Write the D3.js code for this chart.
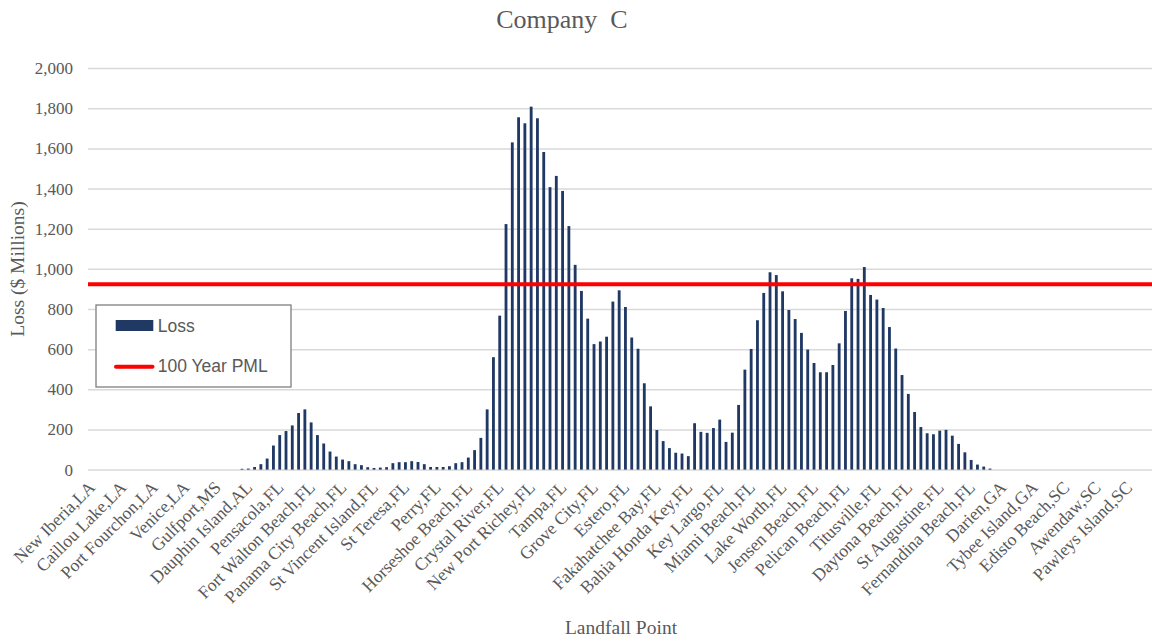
<!DOCTYPE html>
<html>
<head>
<meta charset="utf-8">
<script src="https://cdn.jsdelivr.net/npm/d3@7"></script>
<style>
  html, body { margin: 0; padding: 0; background: #ffffff; overflow: hidden; }
  svg { display: block; }
</style>
</head>
<body>
<svg id="chart" width="1152" height="641"></svg>
<script>
// ---------- data ----------
const chartTitle = "Company  C";
const yAxisTitle = "Loss ($ Millions)";
const xAxisTitle = "Landfall Point";
const seriesNames = ["Loss", "100 Year PML"];

// labels shown on the x axis (every 5th landfall point)
const tickLabels = [
  "New Iberia,LA", "Caillou Lake,LA", "Port Fourchon,LA", "Venice,LA", "Gulfport,MS",
  "Dauphin Island,AL", "Pensacola,FL", "Fort Walton Beach,FL", "Panama City Beach,FL",
  "St Vincent Island,FL", "St Teresa,FL", "Perry,FL", "Horseshoe Beach,FL", "Crystal River,FL",
  "New Port Richey,FL", "Tampa,FL", "Grove City,FL", "Estero,FL", "Fakahatchee Bay,FL",
  "Bahia Honda Key,FL", "Key Largo,FL", "Miami Beach,FL", "Lake Worth,FL", "Jensen Beach,FL",
  "Pelican Beach,FL", "Titusville,FL", "Daytona Beach,FL", "St Augustine,FL",
  "Fernandina Beach,FL", "Darien,GA", "Tybee Island,GA", "Edisto Beach,SC", "Awendaw,SC",
  "Pawleys Island,SC"
];
const labelEvery = 5;

// loss per landfall point ($ millions), 170 points
const lossValues = [
  0, 0, 0, 0, 0, 0, 0, 0, 0, 0,
  0, 0, 0, 0, 0, 0, 0, 0, 0, 0,
  0, 0, 0, 0, 4, 5, 13, 27, 55, 120,
  172, 192, 220, 282, 300, 235, 172, 130, 90, 65,
  50, 42, 27, 22, 12, 8, 10, 12, 32, 37,
  37, 42, 38, 27, 13, 13, 13, 17, 32, 37,
  60, 97, 158, 300, 560, 767, 1223, 1630, 1755, 1725,
  1808, 1750, 1582, 1407, 1463, 1388, 1213, 1020, 890, 752,
  625, 638, 662, 837, 893, 810, 658, 602, 430, 315,
  197, 142, 107, 84, 80, 67, 231, 188, 183, 207,
  249, 138, 184, 322, 498, 601, 744, 880, 983, 969,
  888, 795, 750, 681, 598, 531, 485, 485, 521, 629,
  790, 953, 950, 1009, 870, 847, 805, 710, 603, 471,
  377, 287, 212, 181, 176, 194, 198, 169, 128, 86,
  48, 25, 15, 5, 0, 0, 0, 0, 0, 0,
  0, 0, 0, 0, 0, 0, 0, 0, 0, 0,
  0, 0, 0, 0, 0, 0, 0, 0, 0, 0
];
const pmlValue = 923;
const yTicks = [0, 200, 400, 600, 800, 1000, 1200, 1400, 1600, 1800, 2000];

// ---------- layout ----------
const W = 1152, H = 641;
const plotLeft = 88, plotRight = 1156.6, plotTop = 68.1, plotBottom = 469.6;
const serif = "'Liberation Serif', 'Times New Roman', serif";
const sans = "'Liberation Sans', Arial, sans-serif";
const textGray = "#595959";
const barColor = "#1F3864";

const svg = d3.select("#chart");
svg.append("rect").attr("width", W).attr("height", H).attr("fill", "#fff");

const idx = d3.range(lossValues.length);
const x = d3.scaleBand().domain(idx).range([plotLeft, plotRight])
  .paddingInner(0.55).paddingOuter(0.275);
const y = d3.scaleLinear().domain([0, 2000]).range([plotBottom, plotTop]);

// gridlines + y labels
const yAxis = d3.axisLeft(y).tickValues(yTicks).tickFormat(d3.format(","))
  .tickSize(-(plotRight - plotLeft)).tickPadding(15);
const gy = svg.append("g").attr("transform", `translate(${plotLeft},0)`).call(yAxis);
gy.select(".domain").remove();
gy.selectAll(".tick line").attr("stroke", "#d9d9d9").attr("stroke-width", 1.5);
gy.selectAll(".tick text").attr("fill", textGray).attr("font-family", serif).attr("font-size", 17);

// bars
svg.append("g").selectAll("rect").data(idx).join("rect")
  .attr("x", i => x(i))
  .attr("width", x.bandwidth())
  .attr("y", i => y(lossValues[i]))
  .attr("height", i => y(0) - y(lossValues[i]))
  .attr("fill", barColor);

// x axis labels
const xAxis = d3.axisBottom(x)
  .tickValues(idx.filter(i => i % labelEvery === 0))
  .tickFormat(i => tickLabels[i / labelEvery])
  .tickSize(0);
const gx = svg.append("g").attr("transform", `translate(0,${plotBottom})`).call(xAxis);
gx.select(".domain").remove();
gx.selectAll(".tick text")
  .attr("fill", textGray).attr("font-family", serif).attr("font-size", 17.6)
  .attr("text-anchor", "end")
  .attr("x", 0).attr("y", 0).attr("dy", 0)
  .attr("transform", "translate(5,19) rotate(-45)");

// 100 Year PML line
svg.append("line")
  .attr("x1", plotLeft).attr("x2", plotRight)
  .attr("y1", y(pmlValue)).attr("y2", y(pmlValue))
  .attr("stroke", "#FF0000").attr("stroke-width", 4);

// titles
svg.append("text").attr("x", 562).attr("y", 28)
  .attr("text-anchor", "middle").attr("font-family", serif).attr("font-size", 26)
  .attr("fill", textGray).style("white-space", "pre").text(chartTitle);

svg.append("text").attr("transform", "translate(24,269) rotate(-90)")
  .attr("text-anchor", "middle").attr("font-family", serif).attr("font-size", 19.5)
  .attr("fill", textGray).text(yAxisTitle);

svg.append("text").attr("x", 621).attr("y", 634)
  .attr("text-anchor", "middle").attr("font-family", serif).attr("font-size", 19.5)
  .attr("fill", textGray).text(xAxisTitle);

// legend
const lg = svg.append("g");
lg.append("rect").attr("x", 96).attr("y", 305).attr("width", 195).attr("height", 82)
  .attr("fill", "#fff").attr("stroke", "#7f7f7f").attr("stroke-width", 1.3);
lg.append("rect").attr("x", 115.7).attr("y", 320).attr("width", 37.6).attr("height", 11)
  .attr("fill", barColor);
lg.append("line").attr("x1", 116).attr("x2", 152.5).attr("y1", 366.7).attr("y2", 366.7)
  .attr("stroke", "#FF0000").attr("stroke-width", 4).attr("stroke-linecap", "round");
lg.append("text").attr("x", 157.7).attr("y", 332.3).attr("font-family", sans)
  .attr("font-size", 17.5).attr("fill", textGray).text(seriesNames[0]);
lg.append("text").attr("x", 157.7).attr("y", 372.3).attr("font-family", sans)
  .attr("font-size", 17.5).attr("fill", textGray).text(seriesNames[1]);
</script>
</body>
</html>
